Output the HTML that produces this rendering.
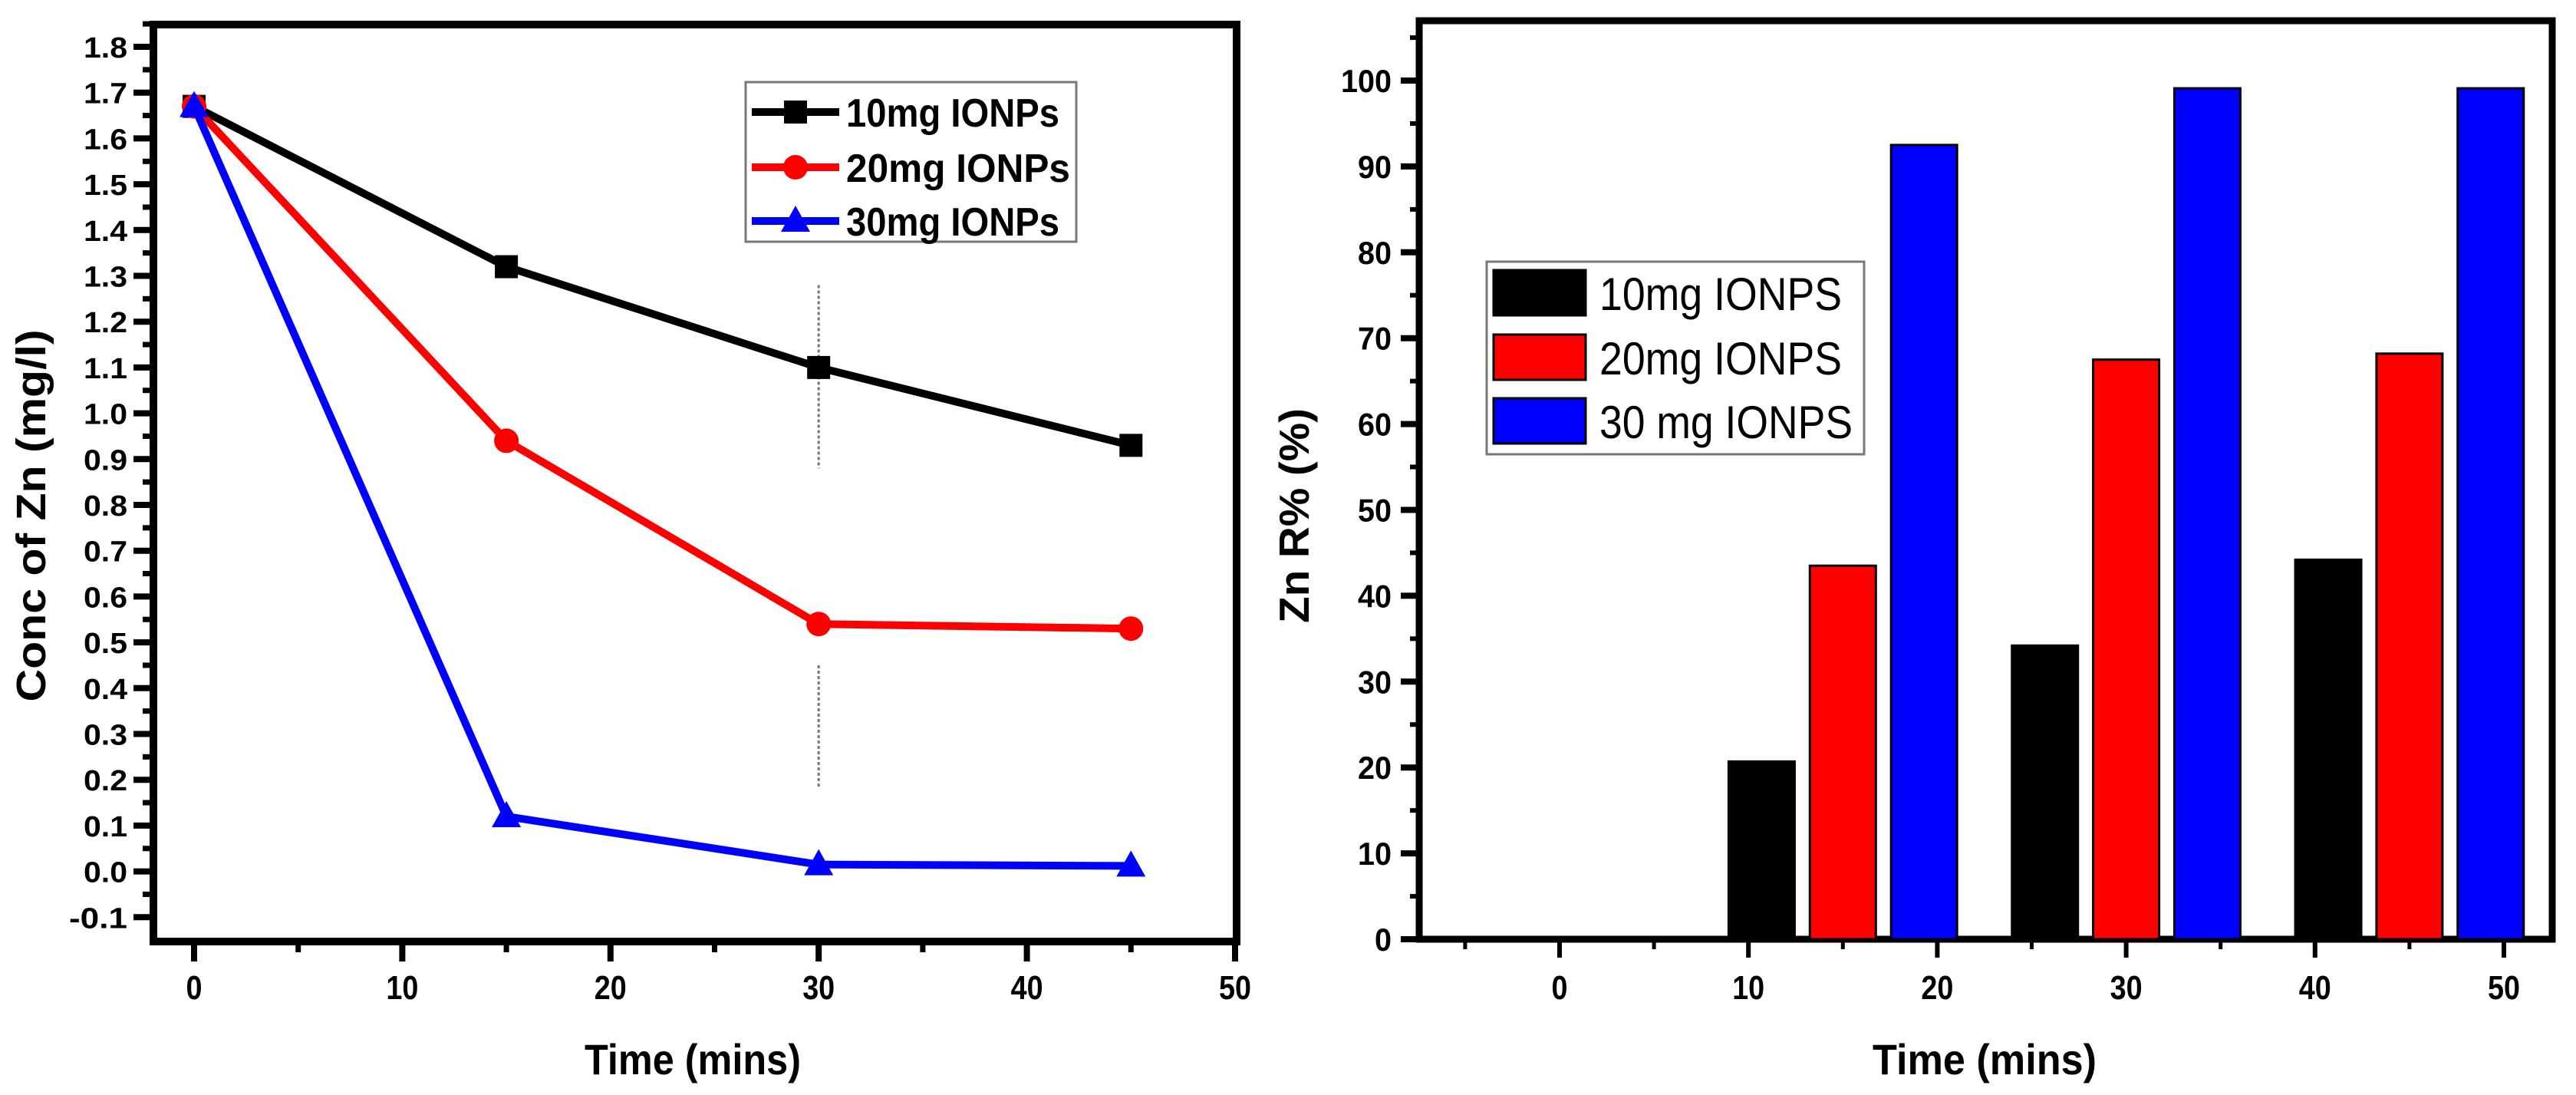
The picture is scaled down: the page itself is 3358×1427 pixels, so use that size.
<!DOCTYPE html>
<html><head><meta charset="utf-8">
<style>
html,body{margin:0;padding:0;background:#fff;}
svg{display:block;}
text{font-family:"Liberation Sans",Arial,sans-serif;}
</style></head>
<body>
<svg id="fig" width="3358" height="1427" viewBox="0 0 3358 1427" xmlns="http://www.w3.org/2000/svg">
<rect x="0" y="0" width="3358" height="1427" fill="#fff"/>
<g id="left"></g>
<g id="right"></g>
</svg>
<script>
// ---------- Left chart data ----------
const lineTimes = [0, 15, 30, 45];
const conc10 = [1.67, 1.32, 1.10, 0.93];
const conc20 = [1.67, 0.94, 0.54, 0.53];
const conc30 = [1.67, 0.12, 0.015, 0.012];
const lineSeriesNames = ["10mg IONPs", "20mg  IONPs", "30mg IONPs"];
const leftYTicks = ["-0.1","0.0","0.1","0.2","0.3","0.4","0.5","0.6","0.7","0.8","0.9","1.0","1.1","1.2","1.3","1.4","1.5","1.6","1.7","1.8"];
const leftXTicks = [0, 10, 20, 30, 40, 50];

// ---------- Right chart data ----------
const barTimes = [15, 30, 45];
const removal10 = [20.7, 34.2, 44.2];
const removal20 = [43.5, 67.5, 68.2];
const removal30 = [92.5, 99.1, 99.1];
const barSeriesNames = ["10mg IONPS", "20mg IONPS", "30 mg IONPS"];
const rightYTicks = [0, 10, 20, 30, 40, 50, 60, 70, 80, 90, 100];
const rightXTicks = [0, 10, 20, 30, 40, 50];

const NS = "http://www.w3.org/2000/svg";
function mk(parent, tag, attrs, txt) {
  const e = document.createElementNS(NS, tag);
  for (const k in attrs) e.setAttribute(k, attrs[k]);
  if (txt !== undefined) e.textContent = txt;
  parent.appendChild(e);
  return e;
}

// ===== LEFT =====
const L = document.getElementById('left');
const lx = t => 253 + 27.14 * t;
const ly = v => 61 + (1.8 - v) * 597;
// frame
let fr = mk(L, 'rect', {x:200, y:32, width:1412, height:1195, fill:'none', stroke:'#000', 'stroke-width':10});


// y ticks
for (let i = 0; i < leftYTicks.length; i++) {
  const v = parseFloat(leftYTicks[i]);
  const y = ly(v);
  const t = mk(L, 'line', {x1:174, x2:200, y1:y, y2:y, stroke:'#000', 'stroke-width':8});
  
  
  const m = mk(L, 'line', {x1:186, x2:200, y1:ly(v + 0.05), y2:ly(v + 0.05), stroke:'#000', 'stroke-width':7});
  
  
  const lb = mk(L, 'text', {x:166, y:y + 14, 'text-anchor':'end', 'font-size':38, 'font-weight':'bold', textLength: leftYTicks[i].length * 19, lengthAdjust:'spacingAndGlyphs'}, leftYTicks[i]);
  
  
}
// x ticks
for (let i = 0; i < leftXTicks.length; i++) {
  const x = lx(leftXTicks[i]);
  const t = mk(L, 'line', {x1:x, x2:x, y1:1227, y2:1253, stroke:'#000', 'stroke-width':8});
  
  
  if (i < leftXTicks.length - 1) {
    const m = mk(L, 'line', {x1:lx(leftXTicks[i] + 5), x2:lx(leftXTicks[i] + 5), y1:1227, y2:1241, stroke:'#000', 'stroke-width':7});
    
    
  }
  const s = String(leftXTicks[i]);
  const lb = mk(L, 'text', {x:x, y:1302, 'text-anchor':'middle', 'font-size':44, 'font-weight':'bold', textLength: s.length * 21, lengthAdjust:'spacingAndGlyphs'}, s);
  
  
}
// dotted vertical guide at 30
let g1 = mk(L, 'line', {x1:lx(30), x2:lx(30), y1:ly(1.28), y2:ly(0.88), stroke:'#777', 'stroke-width':3, 'stroke-dasharray':'4 3'});


let g2 = mk(L, 'line', {x1:lx(30), x2:lx(30), y1:ly(0.45), y2:ly(0.18), stroke:'#777', 'stroke-width':3, 'stroke-dasharray':'4 3'});



function marker(parent, kind, x, y, color) {
  let e;
  if (kind === 'square') e = mk(parent, 'rect', {x:x - 15, y:y - 15, width:30, height:30, fill:color});
  else if (kind === 'circle') e = mk(parent, 'circle', {cx:x, cy:y, r:16, fill:color});
  else e = mk(parent, 'polygon', {points:`${x},${y - 20} ${x + 19},${y + 14} ${x - 19},${y + 14}`, fill:color});
  return e;
}
const lineSeries = [[conc10, '#000', 'square'], [conc20, '#ff0000', 'circle'], [conc30, '#0000ff', 'triangle']];
lineSeries.forEach((s, si) => {
  const pts = lineTimes.map((t, i) => lx(t) + ',' + ly(s[0][i])).join(' ');
  const pl = mk(L, 'polyline', {points:pts, fill:'none', stroke:s[1], 'stroke-width':10, 'stroke-linejoin':'round'});
  
  
  lineTimes.forEach((t, i) => {
    const m = marker(L, s[2], lx(t), ly(s[0][i]), s[1]);
    
    
  });
});
// legend
let lg = mk(L, 'rect', {x:972, y:107, width:431, height:208, fill:'#fff', stroke:'#777', 'stroke-width':3});


const legRowsY = [146, 218, 288];
lineSeries.forEach((s, si) => {
  const y = legRowsY[si];
  const ln = mk(L, 'line', {x1:980, x2:1094, y1:y, y2:y, stroke:s[1], 'stroke-width':10});
  
  
  const m = marker(L, s[2], 1037, y, s[1]);
  
  
  const tx = mk(L, 'text', {x:1103, y:y + 19, 'font-size':52, 'font-weight':'bold', textLength: si === 1 ? 292 : 278, lengthAdjust:'spacingAndGlyphs'}, lineSeriesNames[si]);
  
  
});
let xt = mk(L, 'text', {x:903, y:1400, 'text-anchor':'middle', 'font-size':56, 'font-weight':'bold', textLength:282, lengthAdjust:'spacingAndGlyphs'}, 'Time (mins)');


let yt = mk(L, 'text', {x:0, y:0, 'text-anchor':'middle', 'font-size':54, 'font-weight':'bold', textLength:485, lengthAdjust:'spacingAndGlyphs', transform:'translate(59,672) rotate(-90)'}, 'Conc of Zn (mg/l)');



// ===== RIGHT =====
const R = document.getElementById('right');
const rx = t => 2033 + 24.62 * t;
const ry = v => 1224 - 11.19 * v;
let rf = mk(R, 'rect', {x:1850, y:27, width:1477, height:1197, fill:'none', stroke:'#000', 'stroke-width':9});


rightYTicks.forEach((v, i) => {
  const y = ry(v);
  const t = mk(R, 'line', {x1:1826, x2:1850, y1:y, y2:y, stroke:'#000', 'stroke-width':8});
  
  
  const m = mk(R, 'line', {x1:1838, x2:1850, y1:ry(v + 5), y2:ry(v + 5), stroke:'#000', 'stroke-width':6});
  
  
  const s = String(v);
  const lb = mk(R, 'text', {x:1814, y:y + 15, 'text-anchor':'end', 'font-size':42, 'font-weight':'bold', textLength: s.length * 22, lengthAdjust:'spacingAndGlyphs'}, s);
  
  
});
rightXTicks.forEach((v, i) => {
  const x = rx(v);
  const t = mk(R, 'line', {x1:x, x2:x, y1:1224, y2:1248, stroke:'#000', 'stroke-width':6});
  
  
  const m = mk(R, 'line', {x1:rx(v - 5), x2:rx(v - 5), y1:1224, y2:1237, stroke:'#000', 'stroke-width':5});
  
  
  const s = String(v);
  const lb = mk(R, 'text', {x:x, y:1302, 'text-anchor':'middle', 'font-size':44, 'font-weight':'bold', textLength: s.length * 21, lengthAdjust:'spacingAndGlyphs'}, s);
  
  
});
const barSeries = [[removal10, '#000'], [removal20, '#ff0000'], [removal30, '#0000ff']];
const barOffsets = [-4.3, 0, 4.3];
barSeries.forEach((s, si) => {
  barTimes.forEach((t, i) => {
    const cx = rx(t + barOffsets[si]);
    const y = ry(s[0][i]);
    const b = mk(R, 'rect', {x:cx - 43, y:y, width:86, height:1224 - y, fill:s[1], stroke:'#000', 'stroke-width':3});
    
    
  });
});
let rl = mk(R, 'rect', {x:1938, y:341, width:492, height:251, fill:'#fff', stroke:'#777', 'stroke-width':3});


const rRows = [352, 436, 519];
barSeries.forEach((s, si) => {
  const sw = mk(R, 'rect', {x:1947, y:rRows[si], width:120, height:59, fill:s[1], stroke:'#000', 'stroke-width':3});
  
  
  const tx = mk(R, 'text', {x:2085, y:rRows[si] + 52, 'font-size':60, textLength: si === 2 ? 330 : 316, lengthAdjust:'spacingAndGlyphs'}, barSeriesNames[si]);
  
  
});
let rxt = mk(R, 'text', {x:2587, y:1400, 'text-anchor':'middle', 'font-size':56, 'font-weight':'bold', textLength:292, lengthAdjust:'spacingAndGlyphs'}, 'Time (mins)');


let ryt = mk(R, 'text', {x:0, y:0, 'text-anchor':'middle', 'font-size':55, 'font-weight':'bold', textLength:280, lengthAdjust:'spacingAndGlyphs', transform:'translate(1706,672) rotate(-90)'}, 'Zn R% (%)');


</script>
</body></html>
